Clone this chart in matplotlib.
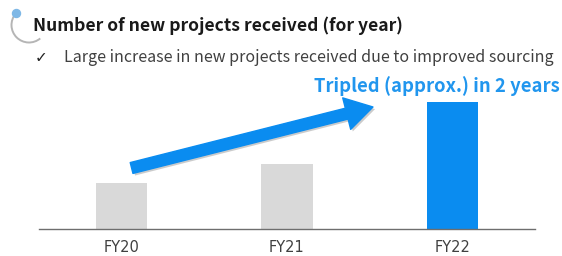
import numpy as np
import matplotlib.pyplot as plt
from matplotlib.patches import Arc, Circle
import matplotlib.patheffects as pe

plt.rcParams['font.family'] = ['Noto Sans CJK JP', 'DejaVu Sans']

# data
years = ['FY20', 'FY21', 'FY22']
projects = [46, 65, 127]   # relative heights
bar_colors = ['#d9d9d9', '#d9d9d9', '#0a8cf0']

title = 'Number of new projects received (for year)'
subtitle = 'Large increase in new projects received due to improved sourcing'
callout = 'Tripled (approx.) in 2 years'

fig = plt.figure(figsize=(5.62, 2.56), dpi=100)

# bar chart
ax = fig.add_axes([39 / 562, 27 / 256, 496 / 562, 149 / 256])
ax.set_facecolor('none')
x = np.arange(len(years))
ax.bar(x, projects, width=0.31, color=bar_colors)
ax.set_xlim(-0.5, 2.5)
ax.set_ylim(0, 149)
for s in ['top', 'right', 'left']:
    ax.spines[s].set_visible(False)
ax.spines['bottom'].set_color('#6e6e6e')
ax.spines['bottom'].set_linewidth(1.0)
ax.set_yticks([])
ax.set_xticks(x)
ax.set_xticklabels(years, fontsize=10.5, color='#404040', family=['DejaVu Sans'])
ax.tick_params(axis='x', length=0, pad=8)

# growth arrow
ax.annotate('', xy=(1.52, 122), xytext=(0.06, 61),
            arrowprops=dict(arrowstyle='simple,head_length=1.5,head_width=1.8,tail_width=0.62',
                            mutation_scale=13, color='#0a8cf0', shrinkA=0, shrinkB=0,
                            path_effects=[pe.SimplePatchShadow(offset=(1.5, -1.5), shadow_rgbFace='#999999', alpha=0.5),
                                          pe.Normal()]))

# header decoration and text
deco = fig.add_axes([0, 0, 1, 1], zorder=-1)
deco.set_xlim(0, 562)
deco.set_ylim(256, 0)
deco.axis('off')
deco.add_patch(Arc((29, 25), 35, 35, theta1=50, theta2=220, color='#b5b5b5', lw=1.4))
deco.add_patch(Circle((16.5, 13.5), 4, color='#7fb8e6'))
deco.text(33, 26, title, ha='left', va='center', fontsize=12.6, fontweight='bold', color='#1a1a1a')
deco.text(35, 58, '\u2713', ha='left', va='center', fontsize=11, color='#222222',
          family=['DejaVu Sans'])
deco.text(64, 58, subtitle, ha='left', va='center', fontsize=11.5, color='#404040')
deco.text(560, 86, callout, ha='right', va='center', fontsize=13.3,
          fontweight='bold', color='#2196ee')

fig.savefig('out.png', dpi=100)
